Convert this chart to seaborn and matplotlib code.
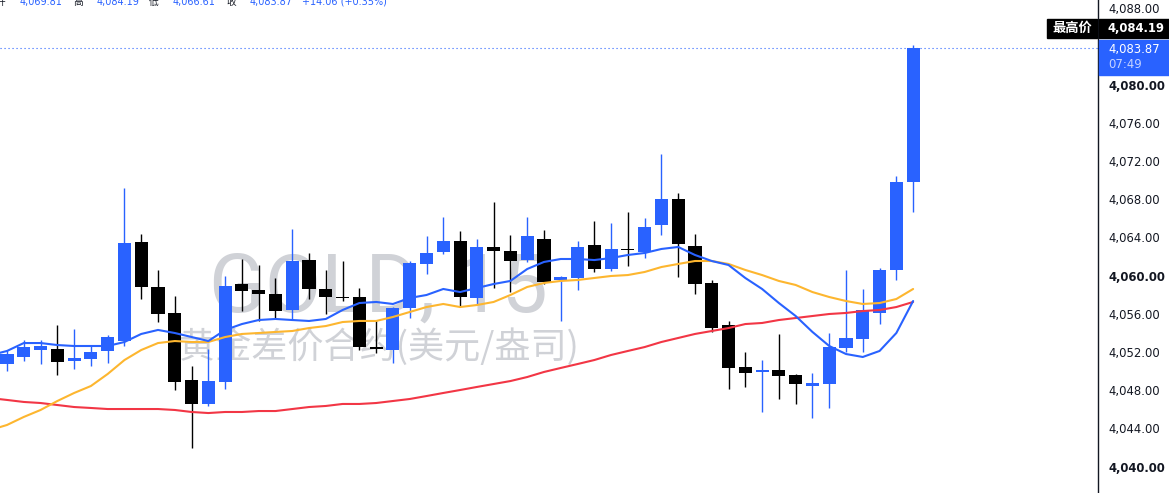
import numpy as np
import pandas as pd
import matplotlib
matplotlib.use("Agg")
import matplotlib.pyplot as plt
import seaborn as sns
from matplotlib.patches import Rectangle

# K线数据 (GOLD, 15分钟)
opens = [4050.74, 4051.48, 4052.21, 4052.32, 4051.06, 4051.27, 4052.11, 4053.15, 4063.52, 4058.81,
         4056.09, 4049.07, 4046.56, 4048.86, 4059.12, 4058.49, 4058.07, 4056.40, 4061.63, 4058.60,
         4057.76, 4057.76, 4052.52, 4052.21, 4056.61, 4061.22, 4062.47, 4063.62, 4057.66, 4063.00,
         4062.58, 4061.63, 4063.83, 4059.54, 4059.75, 4063.21, 4060.69, 4062.79, 4062.47, 4065.30,
         4068.02, 4063.10, 4059.23, 4054.83, 4050.43, 4049.91, 4050.12, 4049.59, 4048.44, 4048.65,
         4052.42, 4053.36, 4056.09, 4060.59, 4069.81]
highs = [4052.21, 4053.26, 4053.26, 4054.83, 4054.41, 4052.63, 4053.78, 4069.17, 4064.36, 4060.59,
         4057.87, 4050.54, 4052.32, 4059.96, 4061.74, 4061.11, 4059.75, 4064.88, 4062.37, 4060.59,
         4061.53, 4058.70, 4055.35, 4056.71, 4061.53, 4064.15, 4066.14, 4064.67, 4063.83, 4067.71,
         4064.25, 4066.14, 4064.78, 4059.96, 4063.62, 4065.72, 4065.51, 4066.66, 4066.03, 4072.73,
         4068.65, 4064.36, 4059.54, 4055.25, 4052.00, 4051.16, 4053.89, 4049.70, 4049.80, 4053.99,
         4060.59, 4058.60, 4060.80, 4070.43, 4084.19]
lows = [4050.01, 4051.06, 4050.74, 4049.59, 4050.22, 4050.54, 4050.85, 4052.63, 4057.55, 4055.14,
        4048.02, 4041.95, 4046.35, 4048.13, 4056.29, 4055.25, 4055.46, 4055.35, 4057.55, 4055.98,
        4057.34, 4052.21, 4051.90, 4050.85, 4055.56, 4060.17, 4062.26, 4056.82, 4057.03, 4058.70,
        4058.28, 4061.43, 4059.12, 4055.25, 4058.49, 4060.38, 4060.48, 4061.01, 4061.84, 4064.25,
        4059.85, 4058.07, 4054.10, 4048.13, 4048.34, 4045.72, 4047.08, 4046.56, 4045.09, 4046.14,
        4052.00, 4052.00, 4054.93, 4059.54, 4066.61]
closes = [4051.79, 4052.52, 4052.63, 4050.95, 4051.37, 4052.00, 4053.57, 4063.41, 4058.81, 4055.98,
          4048.86, 4046.56, 4048.96, 4058.91, 4058.39, 4058.07, 4056.29, 4061.53, 4058.60, 4057.76,
          4057.66, 4052.52, 4052.32, 4056.61, 4061.32, 4062.37, 4063.62, 4057.76, 4063.00, 4062.58,
          4061.53, 4064.15, 4059.33, 4059.85, 4063.00, 4060.69, 4062.79, 4062.68, 4065.09, 4068.02,
          4063.31, 4059.12, 4054.51, 4050.33, 4049.80, 4050.12, 4049.49, 4048.65, 4048.76, 4052.52,
          4053.47, 4056.40, 4060.59, 4069.81, 4083.87]

# 均线 (第一个值是画面左边外的一根K线)
ma_fast = [4051.66, 4052.11, 4052.94, 4052.94, 4052.73, 4052.63, 4052.63, 4052.63, 4053.05, 4053.89,
           4054.31, 4053.99, 4053.57, 4053.15, 4054.31, 4054.93, 4055.35, 4055.46, 4055.35, 4055.25,
           4055.46, 4056.40, 4057.13, 4057.24, 4057.03, 4057.66, 4057.97, 4058.60, 4058.28, 4058.70,
           4059.12, 4059.44, 4060.69, 4061.43, 4061.74, 4061.74, 4061.63, 4061.84, 4062.16, 4062.37,
           4062.79, 4063.00, 4062.16, 4061.53, 4061.11, 4059.75, 4058.60, 4057.13, 4055.77, 4054.10,
           4052.63, 4051.79, 4051.48, 4052.11, 4053.99, 4057.34]
ma_mid = [4043.83, 4044.36, 4045.20, 4045.93, 4046.87, 4047.71, 4048.44, 4049.70, 4051.16, 4052.21,
          4052.94, 4053.15, 4053.05, 4053.05, 4053.57, 4053.89, 4053.99, 4054.10, 4054.20, 4054.51,
          4054.72, 4055.14, 4055.25, 4055.25, 4055.67, 4056.19, 4056.71, 4057.03, 4056.71, 4056.92,
          4057.24, 4057.97, 4058.81, 4059.23, 4059.44, 4059.54, 4059.75, 4059.96, 4060.06, 4060.38,
          4060.90, 4061.22, 4061.53, 4061.53, 4061.22, 4060.59, 4060.06, 4059.44, 4059.02, 4058.28,
          4057.76, 4057.34, 4057.03, 4057.13, 4057.55, 4058.60]
ma_slow = [4047.18, 4046.98, 4046.77, 4046.66, 4046.45, 4046.24, 4046.14, 4046.03, 4046.03, 4046.03,
           4046.03, 4045.93, 4045.72, 4045.61, 4045.72, 4045.72, 4045.82, 4045.82, 4046.03, 4046.24,
           4046.35, 4046.56, 4046.56, 4046.66, 4046.87, 4047.08, 4047.39, 4047.71, 4048.02, 4048.34,
           4048.65, 4048.96, 4049.38, 4049.91, 4050.33, 4050.74, 4051.16, 4051.69, 4052.11, 4052.52,
           4053.05, 4053.47, 4053.89, 4054.20, 4054.51, 4054.93, 4055.04, 4055.35, 4055.56, 4055.77,
           4055.98, 4056.09, 4056.29, 4056.40, 4056.71, 4057.24]

price_ticks = list(range(4040, 4089, 4))
high_label = "最高价"
last_time = "07:49"
watermark = "GOLD, 15"
watermark_sub = "黄金差价合约(美元/盎司)"

AZUL = "#2962ff"
NEGRO = "#000000"
NARANJA = "#fdb62f"
ROJO = "#f23645"
TEXTO = "#131722"

sns.set_style("white")
plt.rcParams['font.family'] = ['DejaVu Sans', 'Noto Sans CJK SC']

W, H = 1169, 493
fig = plt.figure(figsize=(W / 100, H / 100), dpi=100)
ax = fig.add_axes([0, 0, 1098 / W, 1])

velas = pd.DataFrame({"open": opens, "high": highs, "low": lows, "close": closes})
velas["idx"] = np.arange(len(velas))
sube = velas["close"] >= velas["open"]
colores = np.where(sube, AZUL, NEGRO)

# mechas y cuerpos
ax.vlines(velas["idx"], velas["low"], velas["high"], colors=colores, lw=1.0, zorder=3)
base = velas[["open", "close"]].min(axis=1)
alto = (velas["close"] - velas["open"]).abs().clip(lower=0.13)
ax.bar(velas["idx"], alto, bottom=base, width=0.78, color=colores, linewidth=0, zorder=4)

# medias moviles
ma_idx = np.arange(-1, len(opens))
sns.lineplot(x=ma_idx, y=ma_slow, ax=ax, color=ROJO, lw=1.5, zorder=5)
sns.lineplot(x=ma_idx, y=ma_mid, ax=ax, color=NARANJA, lw=1.5, zorder=5)
sns.lineplot(x=ma_idx, y=ma_fast, ax=ax, color=AZUL, lw=1.5, zorder=6)

# linea del precio actual
ax.axhline(closes[-1], color=AZUL, lw=0.8, dashes=(1, 2.6), zorder=2)

# marca de agua
ax.text(0.345, 1 - 312 / H, watermark, transform=ax.transAxes, ha="center", va="baseline",
        fontsize=59, family="Roboto", color="#d0d2d7", zorder=0)
ax.text(0.345, 1 - 347 / H, watermark_sub, transform=ax.transAxes, ha="center", va="center",
        fontsize=26, family=["Noto Sans CJK SC"], color="#d0d2d7", zorder=0)

ax.set_xlim(-7 / 16.78, (1098 - 7) / 16.78)
ax.set_ylim(4088.86 - H / 9.55, 4088.86)
ax.set_xticks([])
ax.yaxis.tick_right()
ax.set_yticks(price_ticks)
ax.set_yticklabels([f"{v:,.2f}" for v in price_ticks])
ax.tick_params(axis="y", length=0, pad=7.5, labelsize=8.4, labelcolor=TEXTO)
for lab, v in zip(ax.get_yticklabels(), price_ticks):
    if v % 20 == 0:
        lab.set_fontweight("bold")
for lado in ["top", "left", "bottom"]:
    ax.spines[lado].set_visible(False)
ax.spines["right"].set_color(TEXTO)
ax.spines["right"].set_linewidth(1)


def caja(x0, y0, x1, y1, color):
    fig.patches.append(Rectangle((x0 / W, 1 - y1 / H), (x1 - x0) / W, (y1 - y0) / H,
                                 transform=fig.transFigure, color=color, zorder=2))


# etiquetas del eje de precios
caja(1047, 19, 1097, 38, NEGRO)
caja(1099, 19, W, 38, NEGRO)
caja(1099, 40, W, 75, AZUL)
fig.text(1072 / W, 1 - 28.5 / H, high_label, ha="center", va="center", color="white",
         fontsize=9.5, fontweight="bold")
fig.text(1108 / W, 1 - 28.5 / H, f"{max(highs):,.2f}", ha="left", va="center", color="white",
         fontsize=8.4, fontweight="bold")
fig.text(1108 / W, 1 - 49 / H, f"{closes[-1]:,.2f}", ha="left", va="center", color="white",
         fontsize=8.4)
fig.text(1108 / W, 1 - 64 / H, last_time, ha="left", va="center", color="#c6d3ff", fontsize=8.4)

# cabecera OHLC (cortada arriba)
cambio = closes[-1] - closes[-2]
pct = cambio / closes[-2] * 100
cabecera = [(-4, "开", TEXTO), (20, f"{opens[-1]:,.2f}", AZUL), (73, "高", TEXTO),
            (97, f"{highs[-1]:,.2f}", AZUL), (149, "低", TEXTO), (173, f"{lows[-1]:,.2f}", AZUL),
            (226, "收", TEXTO), (250, f"{closes[-1]:,.2f}", AZUL),
            (302, f"+{cambio:.2f} (+{pct:.2f}%)", AZUL)]
for x, s, c in cabecera:
    fig.text(x / W, 1 - 4.5 / H, s, ha="left", va="baseline", color=c, fontsize=7)

fig.savefig("out.png", dpi=100)
